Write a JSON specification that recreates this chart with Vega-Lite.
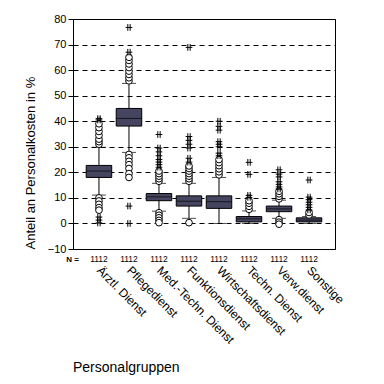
{
  "$schema": "https://vega.github.io/schema/vega-lite/v6.json",
  "autosize": "none",
  "width": 262,
  "height": 230,
  "padding": {"left": 73, "top": 19, "right": 49, "bottom": 135},
  "background": "white",
  "title": {"text": "Personalgruppen", "orient": "bottom", "anchor": "start", "frame": "group", "fontSize": 14, "fontWeight": "normal", "font": "Liberation Sans", "color": "black", "offset": 16},
  "datasets": {
    "boxes": [
      {"g": "Ärztl. Dienst", "n": 1112, "lo": 11.1, "q1": 18.0, "med": 20.5, "q3": 22.7, "hi": 29.8},
      {"g": "Pflegedienst", "n": 1112, "lo": 27.8, "q1": 38.1, "med": 41.1, "q3": 45.0, "hi": 54.8},
      {"g": "Med.-Techn. Dienst", "n": 1112, "lo": 4.8, "q1": 8.9, "med": 10.4, "q3": 11.7, "hi": 15.7},
      {"g": "Funktionsdienst", "n": 1112, "lo": 2.0, "q1": 6.8, "med": 8.7, "q3": 10.8, "hi": 15.7},
      {"g": "Wirtschaftsdienst", "n": 1112, "lo": 0.0, "q1": 5.9, "med": 8.5, "q3": 10.8, "hi": 18.0},
      {"g": "Techn. Dienst", "n": 1112, "lo": 0.0, "q1": 0.6, "med": 1.8, "q3": 2.7, "hi": 4.9},
      {"g": "Verw.dienst", "n": 1112, "lo": 2.0, "q1": 4.6, "med": 5.7, "q3": 6.8, "hi": 9.1},
      {"g": "Sonstige", "n": 1112, "lo": 0.0, "q1": 0.6, "med": 1.3, "q3": 2.2, "hi": 2.7}
    ],
    "pts": [
      {"g": "Ärztl. Dienst", "v": 31, "t": "o"}, {"g": "Ärztl. Dienst", "v": 32, "t": "o"}, {"g": "Ärztl. Dienst", "v": 33, "t": "o"}, {"g": "Ärztl. Dienst", "v": 34.5, "t": "o"}, {"g": "Ärztl. Dienst", "v": 36, "t": "o"}, {"g": "Ärztl. Dienst", "v": 37.5, "t": "o"}, {"g": "Ärztl. Dienst", "v": 39, "t": "o"},
      {"g": "Ärztl. Dienst", "v": 40.5, "t": "e"}, {"g": "Ärztl. Dienst", "v": 41, "t": "e"},
      {"g": "Ärztl. Dienst", "v": 10, "t": "o"}, {"g": "Ärztl. Dienst", "v": 8.8, "t": "o"}, {"g": "Ärztl. Dienst", "v": 7.5, "t": "o"}, {"g": "Ärztl. Dienst", "v": 6.2, "t": "o"}, {"g": "Ärztl. Dienst", "v": 5.2, "t": "o"},
      {"g": "Ärztl. Dienst", "v": 2.5, "t": "e"}, {"g": "Ärztl. Dienst", "v": 1.3, "t": "e"}, {"g": "Ärztl. Dienst", "v": 0.2, "t": "e"},
      {"g": "Pflegedienst", "v": 55.8, "t": "o"}, {"g": "Pflegedienst", "v": 57, "t": "o"}, {"g": "Pflegedienst", "v": 58.3, "t": "o"}, {"g": "Pflegedienst", "v": 59.6, "t": "o"}, {"g": "Pflegedienst", "v": 61, "t": "o"}, {"g": "Pflegedienst", "v": 62.4, "t": "o"}, {"g": "Pflegedienst", "v": 63.8, "t": "o"}, {"g": "Pflegedienst", "v": 65, "t": "o"},
      {"g": "Pflegedienst", "v": 67, "t": "e"}, {"g": "Pflegedienst", "v": 76.7, "t": "e"},
      {"g": "Pflegedienst", "v": 27, "t": "o"}, {"g": "Pflegedienst", "v": 25.7, "t": "o"}, {"g": "Pflegedienst", "v": 24.3, "t": "o"}, {"g": "Pflegedienst", "v": 23, "t": "o"}, {"g": "Pflegedienst", "v": 21.5, "t": "o"}, {"g": "Pflegedienst", "v": 19.5, "t": "o"}, {"g": "Pflegedienst", "v": 18, "t": "o"},
      {"g": "Pflegedienst", "v": 6.8, "t": "e"}, {"g": "Pflegedienst", "v": 0, "t": "e"},
      {"g": "Med.-Techn. Dienst", "v": 16.5, "t": "o"}, {"g": "Med.-Techn. Dienst", "v": 17.5, "t": "o"}, {"g": "Med.-Techn. Dienst", "v": 18.5, "t": "o"}, {"g": "Med.-Techn. Dienst", "v": 19.5, "t": "o"}, {"g": "Med.-Techn. Dienst", "v": 20.5, "t": "o"},
      {"g": "Med.-Techn. Dienst", "v": 22, "t": "e"}, {"g": "Med.-Techn. Dienst", "v": 23, "t": "e"}, {"g": "Med.-Techn. Dienst", "v": 24, "t": "e"}, {"g": "Med.-Techn. Dienst", "v": 25, "t": "e"}, {"g": "Med.-Techn. Dienst", "v": 26.5, "t": "e"}, {"g": "Med.-Techn. Dienst", "v": 28, "t": "e"}, {"g": "Med.-Techn. Dienst", "v": 29.5, "t": "e"}, {"g": "Med.-Techn. Dienst", "v": 34.8, "t": "e"},
      {"g": "Med.-Techn. Dienst", "v": 4.2, "t": "o"}, {"g": "Med.-Techn. Dienst", "v": 3.2, "t": "o"}, {"g": "Med.-Techn. Dienst", "v": 2.2, "t": "o"}, {"g": "Med.-Techn. Dienst", "v": 1.2, "t": "o"}, {"g": "Med.-Techn. Dienst", "v": 0.3, "t": "o"},
      {"g": "Funktionsdienst", "v": 16.5, "t": "o"}, {"g": "Funktionsdienst", "v": 17.5, "t": "o"}, {"g": "Funktionsdienst", "v": 18.5, "t": "o"}, {"g": "Funktionsdienst", "v": 19.5, "t": "o"}, {"g": "Funktionsdienst", "v": 20.5, "t": "o"}, {"g": "Funktionsdienst", "v": 21.5, "t": "o"}, {"g": "Funktionsdienst", "v": 22.5, "t": "o"},
      {"g": "Funktionsdienst", "v": 24, "t": "e"}, {"g": "Funktionsdienst", "v": 25.5, "t": "e"}, {"g": "Funktionsdienst", "v": 29.5, "t": "e"}, {"g": "Funktionsdienst", "v": 31, "t": "e"}, {"g": "Funktionsdienst", "v": 32.5, "t": "e"}, {"g": "Funktionsdienst", "v": 34, "t": "e"}, {"g": "Funktionsdienst", "v": 68.9, "t": "e"},
      {"g": "Funktionsdienst", "v": 0.3, "t": "o"},
      {"g": "Wirtschaftsdienst", "v": 19, "t": "o"}, {"g": "Wirtschaftsdienst", "v": 20.2, "t": "o"}, {"g": "Wirtschaftsdienst", "v": 21.4, "t": "o"}, {"g": "Wirtschaftsdienst", "v": 22.6, "t": "o"}, {"g": "Wirtschaftsdienst", "v": 23.8, "t": "o"}, {"g": "Wirtschaftsdienst", "v": 25, "t": "o"},
      {"g": "Wirtschaftsdienst", "v": 26.5, "t": "e"}, {"g": "Wirtschaftsdienst", "v": 27.5, "t": "e"}, {"g": "Wirtschaftsdienst", "v": 30, "t": "e"}, {"g": "Wirtschaftsdienst", "v": 31, "t": "e"}, {"g": "Wirtschaftsdienst", "v": 32, "t": "e"}, {"g": "Wirtschaftsdienst", "v": 36.5, "t": "e"}, {"g": "Wirtschaftsdienst", "v": 38, "t": "e"}, {"g": "Wirtschaftsdienst", "v": 40, "t": "e"},
      {"g": "Techn. Dienst", "v": 5.5, "t": "o"}, {"g": "Techn. Dienst", "v": 6.7, "t": "o"}, {"g": "Techn. Dienst", "v": 7.9, "t": "o"}, {"g": "Techn. Dienst", "v": 8.9, "t": "o"},
      {"g": "Techn. Dienst", "v": 10.2, "t": "e"}, {"g": "Techn. Dienst", "v": 11, "t": "e"}, {"g": "Techn. Dienst", "v": 19.2, "t": "e"}, {"g": "Techn. Dienst", "v": 23.9, "t": "e"},
      {"g": "Verw.dienst", "v": 9.6, "t": "o"}, {"g": "Verw.dienst", "v": 10.6, "t": "o"}, {"g": "Verw.dienst", "v": 11.6, "t": "o"}, {"g": "Verw.dienst", "v": 12.6, "t": "o"},
      {"g": "Verw.dienst", "v": 13.5, "t": "e"}, {"g": "Verw.dienst", "v": 14.3, "t": "e"}, {"g": "Verw.dienst", "v": 15.3, "t": "e"}, {"g": "Verw.dienst", "v": 16.3, "t": "e"}, {"g": "Verw.dienst", "v": 18.2, "t": "e"}, {"g": "Verw.dienst", "v": 19.3, "t": "e"}, {"g": "Verw.dienst", "v": 21, "t": "e"},
      {"g": "Verw.dienst", "v": 1.5, "t": "o"}, {"g": "Verw.dienst", "v": 0.5, "t": "o"}, {"g": "Verw.dienst", "v": -0.3, "t": "o"},
      {"g": "Sonstige", "v": 3.3, "t": "o"}, {"g": "Sonstige", "v": 4.3, "t": "o"},
      {"g": "Sonstige", "v": 5.3, "t": "e"}, {"g": "Sonstige", "v": 6.3, "t": "e"}, {"g": "Sonstige", "v": 7.3, "t": "e"}, {"g": "Sonstige", "v": 8.3, "t": "e"}, {"g": "Sonstige", "v": 9.3, "t": "e"}, {"g": "Sonstige", "v": 10.3, "t": "e"}, {"g": "Sonstige", "v": 17, "t": "e"}
    ]
  },
  "encoding": {
    "x": {
      "field": "g", "type": "nominal",
      "sort": ["Ärztl. Dienst", "Pflegedienst", "Med.-Techn. Dienst", "Funktionsdienst", "Wirtschaftsdienst", "Techn. Dienst", "Verw.dienst", "Sonstige"],
      "scale": {"paddingInner": 0.15, "paddingOuter": 0.44},
      "axis": {"title": "N =", "titleX": -1, "titleY": 10, "titleAlign": "center", "titleBaseline": "middle", "titleFontSize": 8, "titleFontWeight": "bold", "titleFont": "Liberation Sans", "titleColor": "black", "labelAngle": 45, "labelAlign": "left", "labelBaseline": "middle", "labelPadding": 19, "labelFontSize": 12, "labelFont": "Liberation Sans", "labelColor": "black", "ticks": false, "domain": false, "grid": false, "labelLimit": 200, "labelOverlap": false}
    }
  },
  "layer": [
    {
      "data": {"name": "boxes"},
      "mark": {"type": "rule", "color": "black", "strokeWidth": 1},
      "encoding": {
        "y": {"field": "lo", "type": "quantitative", "title": "Anteil an Personalkosten in %",
          "scale": {"domain": [-10, 80], "nice": false, "zero": false},
          "axis": {"values": [-10, 0, 10, 20, 30, 40, 50, 60, 70, 80], "tickCount": 20, "labelOverlap": false, "grid": true, "gridColor": "black", "gridDash": [5, 4], "gridOpacity": 1, "domain": false, "tickColor": "black", "tickSize": 5, "labelPadding": 2, "labelFontSize": 11, "labelFont": "Liberation Sans", "labelColor": "black", "titleFontSize": 13, "titleFontWeight": "normal", "titleFont": "Liberation Sans", "titleColor": "black", "titlePadding": 10, "titleAnchor": "start"}},
        "y2": {"field": "hi"}
      }
    },
    {
      "data": {"name": "boxes"},
      "mark": {"type": "tick", "color": "black", "size": 14, "thickness": 1},
      "encoding": {"y": {"field": "lo", "type": "quantitative"}}
    },
    {
      "data": {"name": "boxes"},
      "mark": {"type": "tick", "color": "black", "size": 14, "thickness": 1},
      "encoding": {"y": {"field": "hi", "type": "quantitative"}}
    },
    {
      "data": {"name": "boxes"},
      "mark": {"type": "bar", "fill": "#45455f", "stroke": "black", "strokeWidth": 1},
      "encoding": {"y": {"field": "q1", "type": "quantitative"}, "y2": {"field": "q3"}}
    },
    {
      "data": {"name": "boxes"},
      "mark": {"type": "tick", "color": "black", "size": 25, "thickness": 1},
      "encoding": {"y": {"field": "med", "type": "quantitative"}}
    },
    {
      "data": {"name": "pts"},
      "transform": [{"filter": "datum.t == 'o'"}],
      "mark": {"type": "point", "shape": "circle", "size": 45, "filled": true, "fill": "white", "stroke": "black", "strokeWidth": 1, "opacity": 1},
      "encoding": {"y": {"field": "v", "type": "quantitative"}}
    },
    {
      "data": {"name": "pts"},
      "transform": [{"filter": "datum.t == 'e'"}],
      "mark": {"type": "point", "shape": "M-0.35,-1V1M0.35,-1V1M-1,0H1", "size": 45, "filled": false, "stroke": "black", "strokeWidth": 1, "opacity": 1},
      "encoding": {"y": {"field": "v", "type": "quantitative"}}
    },
    {
      "data": {"name": "boxes"},
      "mark": {"type": "text", "fontSize": 8.5, "font": "Liberation Sans", "fontWeight": "normal", "color": "black", "baseline": "middle"},
      "encoding": {"y": {"datum": -14}, "text": {"field": "n", "type": "quantitative", "format": "d"}}
    }
  ],
  "config": {
    "view": {"stroke": "black", "strokeWidth": 1},
    "axis": {"labelColor": "black"}
  }
}
